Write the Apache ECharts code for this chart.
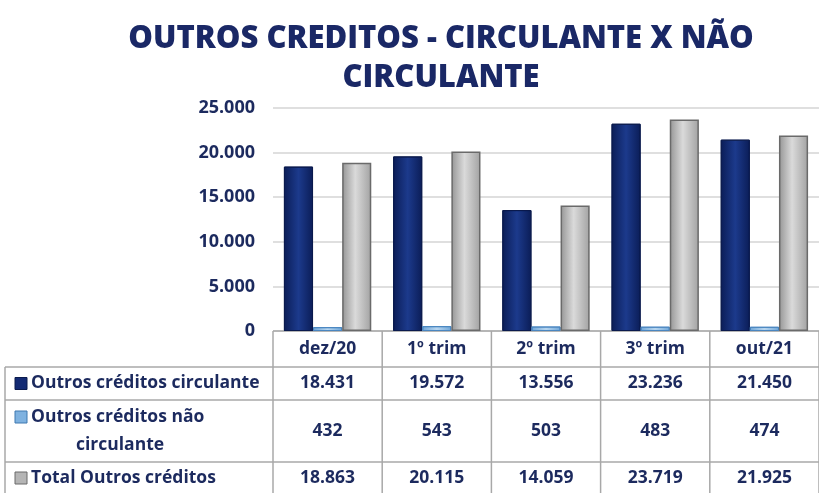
<!DOCTYPE html>
<html><head><meta charset="utf-8">
<script src="https://cdn.jsdelivr.net/npm/echarts@6/dist/echarts.min.js"></script>
<style>html,body{margin:0;padding:0;background:#fff}#c{width:819px;height:493px}</style>
</head><body><div id="c"></div>
<script>
const categories = ['dez/20', '1º trim', '2º trim', '3º trim', 'out/21'];
const circulante = [18431, 19572, 13556, 23236, 21450];
const naoCirculante = [432, 543, 503, 483, 474];
const total = [18863, 20115, 14059, 23719, 21925];
const seriesNames = ['Outros créditos circulante', 'Outros créditos não\ncirculante', 'Total Outros créditos'];
const yTicks = [0, 5000, 10000, 15000, 20000, 25000];

function fmt(v){ return String(v).replace(/\B(?=(\d{3})+(?!\d))/g, '.'); }

const NAVY_TXT = '#1c2a5e';
const FONT = '"Open Sans", "Liberation Sans", sans-serif';
const LINE = '#a8a8a8';

const navyFill = new echarts.graphic.LinearGradient(0,0,1,0,[{offset:0,color:'#0b1d57'},{offset:0.5,color:'#1c3a8c'},{offset:1,color:'#0b1d57'}]);
const grayFill = new echarts.graphic.LinearGradient(0,0,1,0,[{offset:0,color:'#959595'},{offset:0.45,color:'#dadada'},{offset:1,color:'#a2a2a2'}]);
const lblFill = new echarts.graphic.LinearGradient(0,0,1,0,[{offset:0,color:'#6fa6d8'},{offset:0.5,color:'#b8d6f0'},{offset:1,color:'#6fa6d8'}]);

const chart = echarts.init(document.getElementById('c'), null, {renderer:'canvas'});
const option = {
  animation: false,
  title: {
    text: 'OUTROS CREDITOS - CIRCULANTE X NÃO\nCIRCULANTE',
    left: 436, top: 15, textAlign: 'center',
    textStyle: {fontFamily: FONT, fontWeight: 800, fontSize: 31, color: '#1a2866', lineHeight: 39}
  },
  grid: {left: 273, right: 0, top: 108, bottom: 162, containLabel: false},
  xAxis: {
    type: 'category', data: categories,
    axisLine: {show: false}, axisTick: {show: false}, axisLabel: {show: false}
  },
  yAxis: {
    type: 'value', min: yTicks[0], max: yTicks[yTicks.length-1], interval: 5000,
    axisLine: {show: false}, axisTick: {show: false},
    axisLabel: {margin: 18, formatter: v => fmt(v), fontFamily: FONT, fontWeight: 'bold', fontSize: 18, color: NAVY_TXT},
    splitLine: {lineStyle: {color: '#d4d4d4', width: 1.5}}
  },
  series: [
    {name: seriesNames[0], type: 'bar', data: circulante, barGap: '0%', barCategoryGap: '20%',
     itemStyle: {color: navyFill, borderColor: '#0a1a4d', borderWidth: 1}},
    {name: seriesNames[1], type: 'bar', data: naoCirculante,
     itemStyle: {color: lblFill, borderColor: '#4a86c0', borderWidth: 1}},
    {name: seriesNames[2], type: 'bar', data: total,
     itemStyle: {color: grayFill, borderColor: '#6a6a6a', borderWidth: 1.5}}
  ]
};
chart.setOption(option);

// Build the data table below the plot, aligned to the category axis
const c0 = chart.convertToPixel({xAxisIndex: 0}, 0);
const c1 = chart.convertToPixel({xAxisIndex: 0}, 1);
const cw = c1 - c0;
const plotBottom = chart.convertToPixel({yAxisIndex: 0}, 0);
const rowEdges = [plotBottom, plotBottom + 36, plotBottom + 69, plotBottom + 131, plotBottom + 163];
const tableLeft = 5;
const firstColX = c0 - cw/2;
const lastColX = c0 + cw*(categories.length - 0.5);
const els = [];
const ls = {stroke: LINE, lineWidth: 1.5};
els.push({type:'line', shape:{x1:firstColX, y1:rowEdges[0], x2:lastColX, y2:rowEdges[0]}, style:ls});
for (let r = 1; r < rowEdges.length; r++) {
  els.push({type:'line', shape:{x1:tableLeft, y1:rowEdges[r], x2:lastColX, y2:rowEdges[r]}, style:ls});
}
els.push({type:'line', shape:{x1:tableLeft, y1:rowEdges[1], x2:tableLeft, y2:rowEdges[4]}, style:ls});
for (let i = 0; i <= categories.length; i++) {
  const x = firstColX + i*cw;
  els.push({type:'line', shape:{x1:x, y1:rowEdges[0], x2:x, y2:rowEdges[4]}, style:ls});
}
const txt = {fontFamily: FONT, fontWeight: 'bold', fontSize: 17.5, fill: NAVY_TXT};
categories.forEach((cat, i) => {
  const x = chart.convertToPixel({xAxisIndex: 0}, i);
  els.push({type:'text', x: x, y: (rowEdges[0]+rowEdges[1])/2, style: Object.assign({text: cat, align:'center', verticalAlign:'middle'}, txt)});
});
const rows = [circulante, naoCirculante, total];
const swatch = ['#132a73', '#7fb2e0', '#b5b5b5'];
const swBorder = ['#0a1a4d', '#3f78b0', '#6a6a6a'];
rows.forEach((vals, r) => {
  const yc = (rowEdges[r+1] + rowEdges[r+2]) / 2;
  vals.forEach((v, i) => {
    const x = chart.convertToPixel({xAxisIndex: 0}, i);
    els.push({type:'text', x: x, y: yc, style: Object.assign({text: fmt(v), align:'center', verticalAlign:'middle'}, txt)});
  });
  const lines = seriesNames[r].split('\n');
  const topY = lines.length > 1 ? yc - 14 : yc;
  els.push({type:'rect', shape:{x: 15, y: topY - 6, width: 12, height: 12}, style:{fill: swatch[r], stroke: swBorder[r], lineWidth: 1}});
  els.push({type:'text', x: 31, y: topY, style: Object.assign({text: lines[0], align:'left', verticalAlign:'middle'}, txt)});
  if (lines.length > 1) {
    els.push({type:'text', x: 120, y: yc + 14, style: Object.assign({text: lines[1], align:'center', verticalAlign:'middle'}, txt)});
  }
});
chart.setOption({graphic: {elements: els}});
</script></body></html>
